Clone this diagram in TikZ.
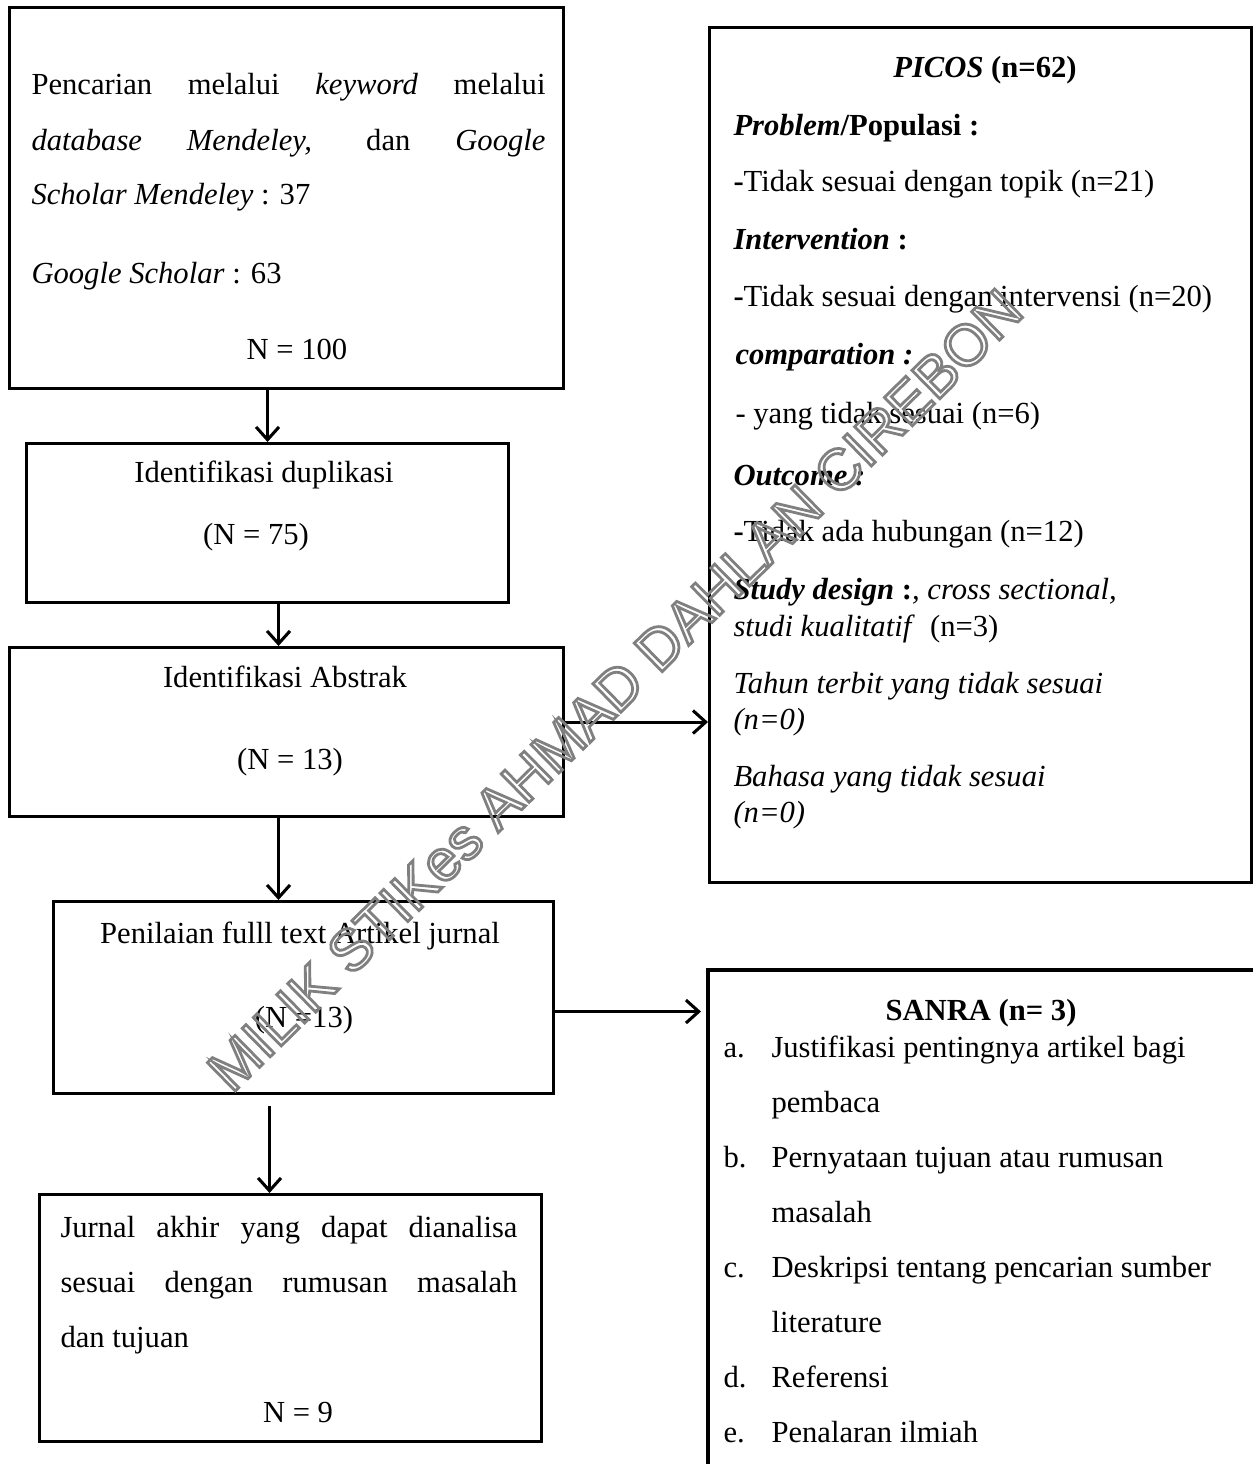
\documentclass[tikz,border=0pt]{standalone}
\usepackage{fontspec}
\setmainfont{Liberation Serif}
\newfontfamily\wmfont{Liberation Sans}
\usetikzlibrary{arrows.meta}
\newlength\px \setlength\px{0.392pt}
\begin{document}
\begin{tikzpicture}[x=0.392pt,y=-0.392pt,
 box/.style={draw, line width=1.2pt, inner sep=0pt, anchor=north west},
 txt/.style={inner sep=0pt, font=\fontsize{12}{14}\selectfont},
 arr/.style={line width=1.2pt, -{Straight Barb[length=5pt,width=9pt]}}]
\useasboundingbox (0,0) rectangle (1252,1464);
% boxes
\node[box, minimum width=554\px, minimum height=381\px] (b1) at (8,6) {};
\node[box, minimum width=482\px, minimum height=159\px] (b2) at (25,442) {};
\node[box, minimum width=554\px, minimum height=169\px] (b3) at (8,646) {};
\node[box, minimum width=500\px, minimum height=192\px] (b4) at (52,900) {};
\node[box, minimum width=502\px, minimum height=247\px] (b5) at (38,1193) {};
\node[box, minimum width=542\px, minimum height=855\px] (picos) at (708,26) {};
\node[inner sep=0pt, anchor=north west, minimum width=546\px, minimum height=494\px] (sanra) at (708,970) {};
\draw[line width=1.2pt] (sanra.north east) -- (sanra.north west) -- (sanra.south west);
% box 1 text
\node[txt, anchor=base west] (t11) at (31,95) {\makebox[514\px][s]{Pencarian melalui \textit{keyword} melalui}};
\node[txt, anchor=base west] (t12) at (31,150) {\makebox[514\px][s]{\textit{database Mendeley,} dan \textit{Google}}};
\node[txt, anchor=base west] (t13) at (31,205) {\textit{Scholar Mendeley} : 37};
\node[txt, anchor=base west] (t14) at (31,283) {\textit{Google Scholar} : 63};
\node[txt, anchor=base] (t15) at (297,359) {N = 100};
% box 2
\node[txt, anchor=base] (t21) at (264,482) {Identifikasi duplikasi};
\node[txt, anchor=base] (t22) at (256,544) {(N = 75)};
% box 3
\node[txt, anchor=base] (t31) at (285,687) {Identifikasi Abstrak};
\node[txt, anchor=base] (t32) at (290,769) {(N = 13)};
% box 4
\node[txt, anchor=base] (t41) at (300,943) {Penilaian fulll text Artikel jurnal};
\node[txt, anchor=base] (t42) at (304,1027) {(N =13)};
% box 5
\node[txt, anchor=base west] (t51) at (60,1237) {\makebox[457\px][s]{Jurnal akhir yang dapat dianalisa}};
\node[txt, anchor=base west] (t52) at (60,1292) {\makebox[457\px][s]{sesuai dengan rumusan masalah}};
\node[txt, anchor=base west] (t53) at (60,1347) {dan tujuan};
\node[txt, anchor=base] (t54) at (298,1422) {N = 9};
% PICOS
\node[txt, anchor=base] (p0) at (985,78) {\textbf{\textit{PICOS}} \textbf{(n=62)}};
\node[txt, anchor=base west] (p1) at (733,135) {\textbf{\textit{Problem}/Populasi :}};
\node[txt, anchor=base west] (p2) at (733,192) {\textbf{-}Tidak sesuai dengan topik (n=21)};
\node[txt, anchor=base west] (p3) at (733,249) {\textbf{\textit{Intervention} :}};
\node[txt, anchor=base west] (p4) at (733,306) {\textbf{-}Tidak sesuai dengan intervensi (n=20)};
\node[txt, anchor=base west] (p5) at (735,364) {\textbf{\textit{comparation :}}};
\node[txt, anchor=base west] (p6) at (735,423) {- yang tidak sesuai (n=6)};
\node[txt, anchor=base west] (p7) at (733,485) {\textbf{\textit{Outcome :}}};
\node[txt, anchor=base west] (p8) at (733,541) {\textbf{-}Tidak ada hubungan (n=12)};
\node[txt, anchor=base west] (p9) at (733,599) {\textbf{\textit{Study design}} \textbf{:}\textit{, cross sectional,}};
\node[txt, anchor=base west] (p10) at (733,636) {\textit{studi kualitatif}\ \ (n=3)};
\node[txt, anchor=base west] (p11) at (733,693) {\textit{Tahun terbit yang tidak sesuai}};
\node[txt, anchor=base west] (p12) at (733,729) {\textit{(n=0)}};
\node[txt, anchor=base west] (p13) at (733,786) {\textit{Bahasa yang tidak sesuai}};
\node[txt, anchor=base west] (p14) at (733,822) {\textit{(n=0)}};
% SANRA
\node[txt, anchor=base] (s0) at (981,1020) {\textbf{SANRA (n= 3)}};
\node[txt, anchor=base west] (sa) at (723,1057) {a.};
\node[txt, anchor=base west] (sa1) at (771,1057) {Justifikasi pentingnya artikel bagi};
\node[txt, anchor=base west] (sa2) at (771,1112) {pembaca};
\node[txt, anchor=base west] (sb) at (723,1167) {b.};
\node[txt, anchor=base west] (sb1) at (771,1167) {Pernyataan tujuan atau rumusan};
\node[txt, anchor=base west] (sb2) at (771,1222) {masalah};
\node[txt, anchor=base west] (sc) at (723,1277) {c.};
\node[txt, anchor=base west] (sc1) at (771,1277) {Deskripsi tentang pencarian sumber};
\node[txt, anchor=base west] (sc2) at (771,1332) {literature};
\node[txt, anchor=base west] (sd) at (723,1387) {d.};
\node[txt, anchor=base west] (sd1) at (771,1387) {Referensi};
\node[txt, anchor=base west] (se) at (723,1442) {e.};
\node[txt, anchor=base west] (se1) at (771,1442) {Penalaran ilmiah};
% arrows
\draw[arr] (b2.north |- b1.south) -- (b2.north);
\draw[arr] ([xshift=11\px]b2.south) -- ([xshift=11\px]b2.south |- b3.north);
\draw[arr] ([xshift=-8\px]b3.south) -- ([xshift=-8\px]b3.south |- b4.north);
\draw[arr] ([xshift=-34\px,yshift=-11\px]b4.south) -- ([xshift=-34\px]b4.south |- b5.north);
\draw[arr] ([yshift=10\px]b3.east) -- ([yshift=10\px]b3.east -| picos.west);
\draw[arr, shorten >=7\px] ([yshift=-14\px]b4.east) -- ([yshift=-14\px]b4.east -| sanra.west);
% watermark
\node[rotate=44.5, inner sep=0pt, text=black!50] (wm) at (615,690) {\wmfont\fontsize{22.7}{24}\selectfont\special{pdf:literal direct 1 Tr 1.1 w}MILIK STIKes AHMAD DAHLAN CIREBON\special{pdf:literal direct 0 Tr}};
\end{tikzpicture}
\end{document}
